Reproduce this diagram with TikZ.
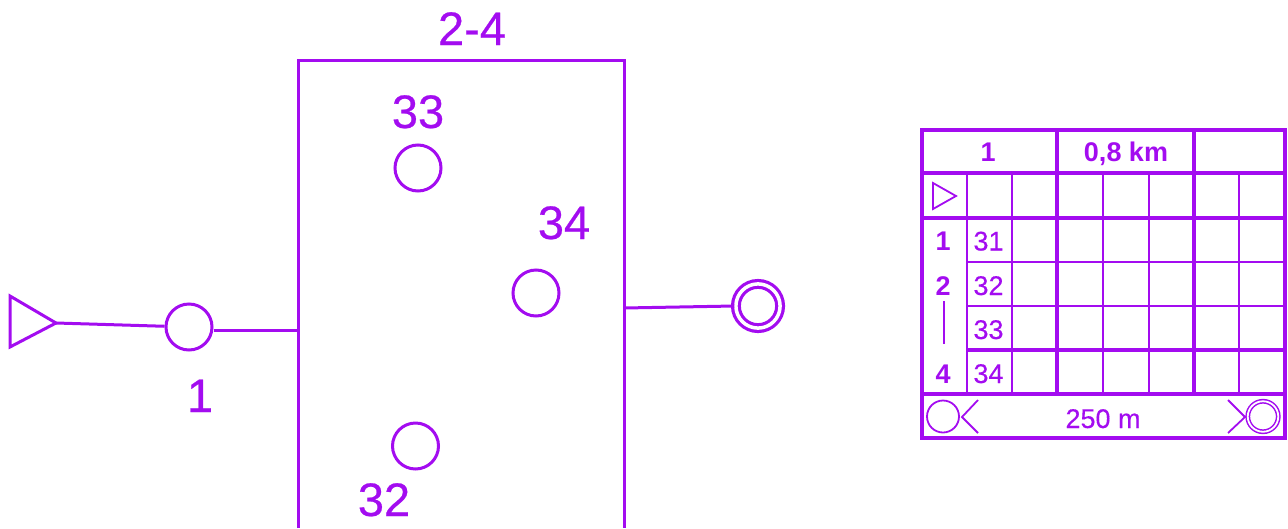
\documentclass[tikz,border=0pt]{standalone}
\usepackage{fontspec}
\setmainfont{Liberation Sans}
\definecolor{pur}{HTML}{A30CF0}
\tikzset{
  x=1pt,y=-1pt,
  ctrl/.style={circle,draw=pur,line width=3pt,inner sep=0pt,minimum size=46pt},
  finish/.style={circle,draw=pur,line width=3.2pt,double=white,double distance=3.5pt,inner sep=0pt,minimum size=44.2pt},
  conn/.style={draw=pur,line width=3pt},
  biglab/.style={text=pur,font=\fontsize{47}{47}\selectfont\addfontfeature{FakeBold=0.5},inner sep=0pt,anchor=base},
  tablab/.style={text=pur,font=\fontsize{27}{27}\selectfont\addfontfeature{FakeBold=0.3},inner sep=0pt,anchor=base},
  tabbold/.style={text=pur,font=\fontsize{27}{27}\selectfont\bfseries,inner sep=0pt,anchor=base},
  thin/.style={draw=pur,line width=2.8pt},
  thick/.style={draw=pur,line width=4.6pt},
}
\begin{document}
\begin{tikzpicture}
\useasboundingbox (0,0) rectangle (1288,528);
% course
\coordinate (t1) at (10,296);
\coordinate (ttip) at (56,323);
\coordinate (t2) at (10,347);
\draw[conn,line join=miter] (t1) -- (ttip) -- (t2) -- cycle;
\node[ctrl] (c1) at (189,327) {};
\node[ctrl] (c33) at (418,168) {};
\node[ctrl] (c34) at (536,293) {};
\node[ctrl] (c32) at (415.5,446) {};
\node[finish] (fin) at (758,306) {};
\coordinate (bl) at (298,528);
\coordinate (tl) at (298,60);
\coordinate (tr) at (624,60);
\coordinate (br) at (624,528);
\coordinate (bin) at (298,330);
\coordinate (bout) at (624,308);
\draw[conn] (bl) -- (tl) -- (tr) -- (br);
\draw[conn] (ttip) -- (c1);
\draw[conn] (c1.east |- bin) -- (bin);
\draw[conn] (bout) -- (fin.west);
\node[biglab] (l24) at (472,45) {2-4};
\node[biglab] (l33) at (418,128) {33};
\node[biglab] (l34) at (564,239) {34};
\node[biglab] (l1) at (200,412) {1};
\node[biglab] (l32) at (384,516) {32};
% table
\foreach \x in {967,1012,1103,1149,1239}{\draw[thin] (\x,173) -- (\x,394);}
\draw[thin] (967,262) -- (1285,262);
\draw[thin] (967,306) -- (1285,306);
\draw[thick] (1057,130) -- (1057,394);
\draw[thick] (1194,130) -- (1194,394);
\draw[thick] (922,173) -- (1285,173);
\draw[thick] (922,218) -- (1285,218);
\draw[thick] (967,350) -- (1285,350);
\draw[thick] (922,394) -- (1285,394);
\draw[draw=pur,line width=4.6pt] (922,130) rectangle (1285,438);
\node[tabbold] (h1) at (988,161) {1};
\node[tabbold] (h2) at (1126,161) {0,8 km};
\draw[pur,line width=1.8pt] (933,183) -- (956,196) -- (933,209) -- cycle;
\node[tabbold] (r1) at (943,250.5) {1};
\node[tabbold] (r2) at (943,295) {2};
\node[tabbold] (r4) at (943,383) {4};
\coordinate (dash1) at (944,301);
\coordinate (dash2) at (944,344);
\draw[draw=pur,line width=2.2pt] (dash1) -- (dash2);
\node[tablab] (n31) at (988.5,250.5) {31};
\node[tablab] (n32) at (988.5,295) {32};
\node[tablab] (n33) at (988.5,339) {33};
\node[tablab] (n34) at (988.5,383) {34};
\node[tablab] (d) at (1103,428) {250 m};
\node[circle,draw=pur,line width=1.8pt,inner sep=0pt,minimum size=32pt] (kc) at (943,416.5) {};
\coordinate (ka) at (978,400);
\coordinate (kapex) at (962,417);
\coordinate (kb) at (978,433);
\draw[pur,line width=1.8pt] (ka) -- (kapex) -- (kb);
\node[circle,draw=pur,line width=1.5pt,double=white,double distance=1.8pt,inner sep=0pt,minimum size=30.5pt] (kf) at (1263,416.5) {};
\coordinate (kd) at (1228,400);
\coordinate (kfapex) at (1245,417);
\coordinate (ke) at (1228,433);
\draw[pur,line width=1.8pt] (kd) -- (kfapex) -- (ke);
\end{tikzpicture}
\end{document}
